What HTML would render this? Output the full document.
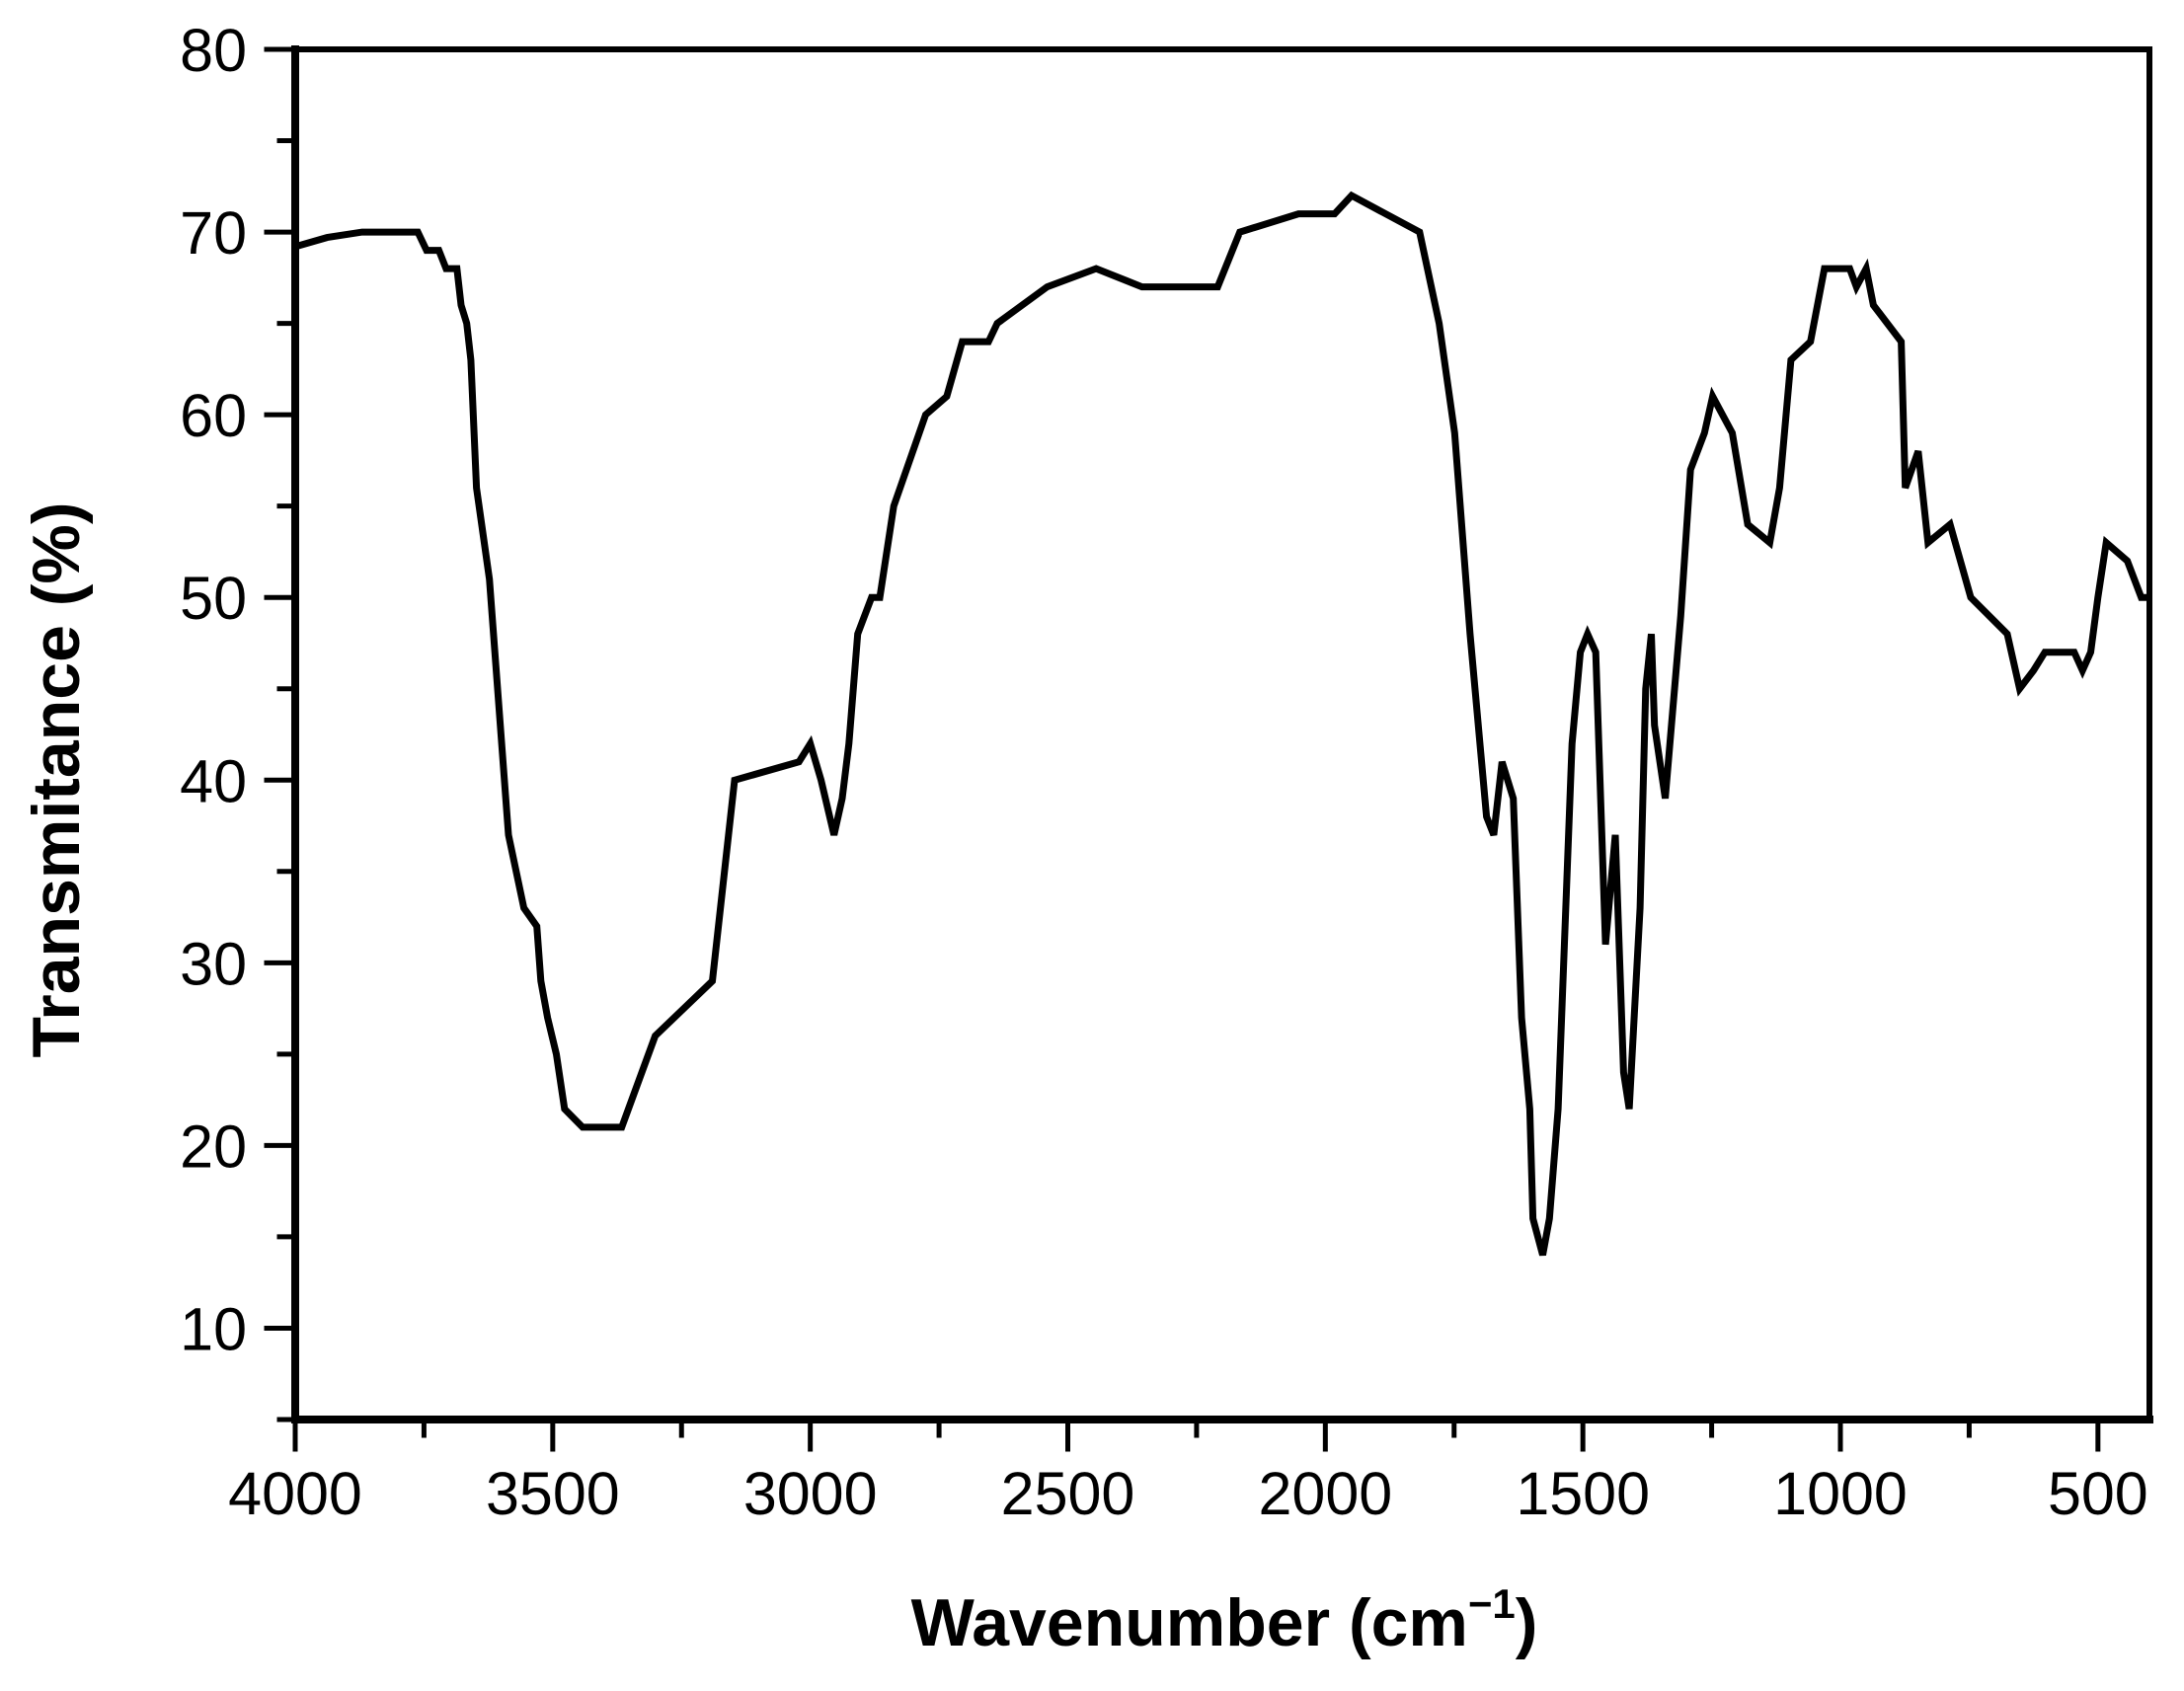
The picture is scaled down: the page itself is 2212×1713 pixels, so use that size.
<!DOCTYPE html>
<html><head><meta charset="utf-8"><style>
html,body{margin:0;padding:0;background:#fff;}
svg{display:block;}
text{font-family:"Liberation Sans",Arial,sans-serif;fill:#000;}
</style></head><body>
<svg id="chart" width="2212" height="1713" viewBox="0 0 2212 1713" xmlns="http://www.w3.org/2000/svg">
<g id="axes"></g>
<path id="line" fill="none" stroke="#000" stroke-width="7" stroke-linejoin="miter"/>
<text x="0" y="0" transform="translate(80,790) rotate(-90)" text-anchor="middle" font-size="68" font-weight="bold">Transmitance (%)</text>
<text x="1240" y="1667" text-anchor="middle" font-size="68" font-weight="bold">Wavenumber (cm<tspan font-size="42" dy="-28">−1</tspan><tspan dy="28">)</tspan></text>
</svg>
<script>
const wavenumbers=[4000,3938,3870,3762,3745,3721,3707,3686,3678,3667,3659,3648,3623,3586,3556,3531,3523,3510,3493,3477,3442,3366,3301,3190,3147,3022,3000,2979,2954,2938,2925,2908,2881,2865,2838,2776,2735,2705,2654,2637,2540,2445,2356,2209,2166,2052,1982,1949,1817,1779,1749,1719,1687,1673,1657,1635,1619,1603,1597,1578,1565,1548,1521,1505,1491,1475,1456,1437,1421,1410,1389,1378,1367,1361,1340,1310,1291,1264,1248,1210,1180,1137,1118,1096,1058,1031,982,969,950,936,882,874,849,830,787,747,676,652,625,603,546,530,514,500,484,443,416,400];
const transmittance=[69.2,69.7,70,70,69,69,68,68,66,65,63,56,51,37,33,32,29,27,25,22,21,21,26,29,40,41,42,40,37,39,42,48,50,50,55,60,61,64,64,65,67,68,67,67,70,71,71,72,70,65,59,48,38,37,41,39,27,22,16,14,16,22,42,47,48,47,31,37,24,22,33,45,48,43,39,49,57,59,61,59,54,53,56,63,64,68,68,67,68,66,64,56,58,53,54,50,48,45,46,47,47,46,47,50,53,52,50,50];
const xTicks=[4000,3500,3000,2500,2000,1500,1000,500];
const yTicks=[10,20,30,40,50,60,70,80];
const X0=299,X1=2177,Y0=50,Y1=1438;
const xMin=4000,xMax=400,yMin=5,yMax=80;
function sx(v){return X0+(xMin-v)/(xMin-xMax)*(X1-X0);}
function sy(v){return Y1-(v-yMin)/(yMax-yMin)*(Y1-Y0);}
const NS="http://www.w3.org/2000/svg";
const ax=document.getElementById('axes');
function ln(x1,y1,x2,y2,w,name){const l=document.createElementNS(NS,'line');l.setAttribute('x1',x1);l.setAttribute('y1',y1);l.setAttribute('x2',x2);l.setAttribute('y2',y2);l.setAttribute('stroke','#000');l.setAttribute('stroke-width',w);l.setAttribute('stroke-linecap','square');


ax.appendChild(l);}
function tx(x,y,s,anchor,name){const t=document.createElementNS(NS,'text');t.setAttribute('x',x);t.setAttribute('y',y);t.setAttribute('font-size','61');t.setAttribute('text-anchor',anchor);t.textContent=s;


ax.appendChild(t);}
ln(X0,Y0,X1,Y0,6,'top-frame');
ln(X1,Y0,X1,Y1,6,'right-frame');
ln(X0,Y0,X0,Y1,8,'y-axis-line');
ln(X0,Y1,X1,Y1,8,'x-axis-line');
for(let v=4000;v>=500;v-=250){const major=v%500===0;ln(sx(v),Y1,sx(v),Y1+(major?30:16),5,major?'x-major-tick':'x-minor-tick');}
for(let v=5;v<=80;v+=5){const major=v%10===0;ln(X0,sy(v),X0-(major?29:16),sy(v),5,major?'y-major-tick':'y-minor-tick');}
xTicks.forEach(v=>tx(sx(v),1534,String(v),'middle','x-tick-label'));
yTicks.forEach(v=>tx(250,sy(v)+22,String(v),'end','y-tick-label'));
let d='';
wavenumbers.forEach((w,i)=>{d+=(i?'L':'M')+sx(w).toFixed(1)+','+sy(transmittance[i]).toFixed(1);});
document.getElementById('line').setAttribute('d',d);
</script>
</body></html>
